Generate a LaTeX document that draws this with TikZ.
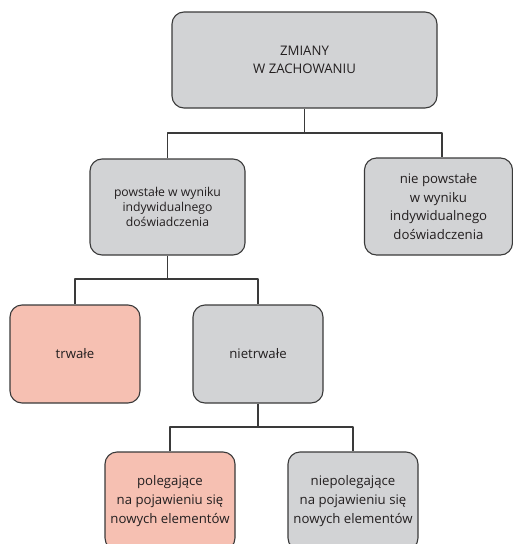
\documentclass[tikz,border=0pt]{standalone}
\usepackage{fontspec}
\setmainfont{Open Sans}
\definecolor{boxgray}{HTML}{D2D3D5}
\definecolor{boxpink}{HTML}{F6C0B2}
\definecolor{linegray}{HTML}{3A3A3A}
\definecolor{textgray}{HTML}{231F20}
\tikzset{
	box/.style={draw=linegray, line width=1.1pt, rounded corners=12pt, align=center,
		inner sep=0pt, text=textgray, font=\fontsize{13.2}{18.6}\selectfont},
	greybox/.style={box, fill=boxgray},
	pinkbox/.style={box, fill=boxpink}
}
\begin{document}
\begin{tikzpicture}[x=1pt, y=-1pt, line join=round]
	\useasboundingbox (0,0) rectangle (513,544);
	\clip (0,0) rectangle (513,544);
	% boxes
	\node[greybox, minimum width=265pt, minimum height=96pt] (zmiany) at (304.5,60) {ZMIANY\\W ZACHOWANIU};
	\node[greybox, minimum width=155pt, minimum height=96pt, font=\fontsize{12.2}{14.6}\selectfont] (powst) at (167.5,207) {powstałe w wyniku\\indywidualnego\\doświadczenia};
	\node[greybox, minimum width=148pt, minimum height=97pt] (niepowst) at (438.5,206.5) {nie powstałe\\w wyniku\\indywidualnego\\doświadczenia};
	\node[pinkbox, minimum width=130pt, minimum height=98pt] (trwale) at (75,354) {trwałe};
	\node[greybox, minimum width=130pt, minimum height=98pt] (nietrwale) at (258,354) {nietrwałe};
	\node[pinkbox, minimum width=130pt, minimum height=98pt] (poleg) at (170,501) {polegające\\na pojawieniu się\\nowych elementów};
	\node[greybox, minimum width=130pt, minimum height=98pt] (niepoleg) at (353,501) {niepolegające\\na pojawieniu się\\nowych elementów};
	% joints
	\coordinate (j1) at (304.5,133);
	\coordinate (j2) at (167.5,279);
	\coordinate (j3) at (258,427);
	% connectors
	\begin{scope}[draw=linegray, line width=1.1pt]
		\draw (zmiany.south) -- (j1);
		\draw (powst.north) |- (j1) -| ([xshift=3.5pt]niepowst.north);
		\draw (powst.south) -- (j2);
		\draw (trwale.north) |- (j2) -| (nietrwale.north);
		\draw (nietrwale.south) -- (j3);
		\draw (poleg.north) |- (j3) -| (niepoleg.north);
	\end{scope}
\end{tikzpicture}
\end{document}
